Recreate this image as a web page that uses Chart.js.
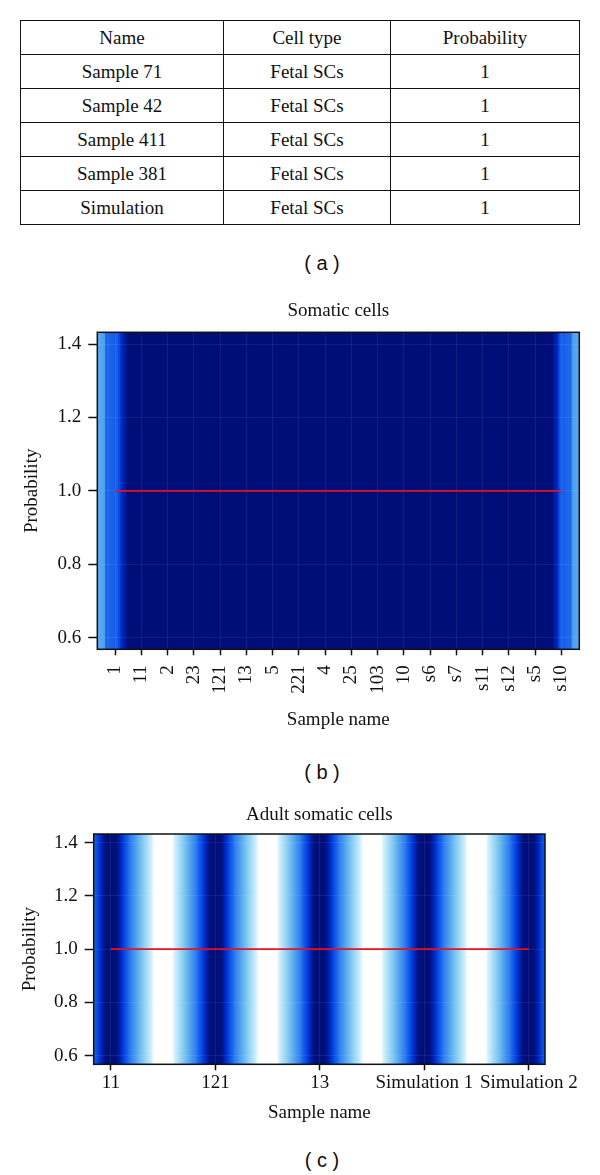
<!DOCTYPE html>
<html>
<head>
<meta charset="utf-8">
<title>Cell type probability</title>
<script src="https://cdn.jsdelivr.net/npm/chart.js@4.4.1/dist/chart.umd.min.js"></script>
<style>
  html, body { margin: 0; padding: 0; background: #fff; }
  body { position: relative; width: 600px; height: 1175px; overflow: hidden; font-family: 'Liberation Serif', 'DejaVu Serif', serif; color: #111; }
  #prob-table { position: absolute; left: 20px; top: 20px; width: 560px; border-collapse: collapse; font-size: 19px; table-layout: fixed; }
  #prob-table th, #prob-table td { border: 1.5px solid #111; height: 33px; padding: 0; text-align: center; font-weight: normal; }
  .caption { position: absolute; left: 272px; width: 100px; text-align: center; font-family: 'Liberation Sans', Arial, sans-serif; font-size: 20px; line-height: 24px; white-space: pre; }
  .chart-box { position: absolute; left: 0; width: 600px; }
</style>
</head>
<body>

<table id="prob-table">
  <colgroup><col style="width:203px"><col style="width:167px"><col></colgroup>
  <thead><tr><th>Name</th><th>Cell type</th><th>Probability</th></tr></thead>
  <tbody></tbody>
</table>
<div class="caption" style="top:251px">( a )</div>

<div class="chart-box" style="top:290px"><canvas id="somaticChart" width="600" height="460"></canvas></div>
<div class="caption" style="top:760px">( b )</div>

<div class="chart-box" style="top:790px"><canvas id="adultChart" width="600" height="345"></canvas></div>
<div class="caption" style="top:1148px">( c )</div>

<script>
// ---- data ----
var tableNames = ['Sample 71', 'Sample 42', 'Sample 411', 'Sample 381', 'Simulation'];
var tableCellTypes = ['Fetal SCs', 'Fetal SCs', 'Fetal SCs', 'Fetal SCs', 'Fetal SCs'];
var tableProbabilities = [1, 1, 1, 1, 1];

var somaticSamples = ['1', '11', '2', '23', '121', '13', '5', '221', '4', '25', '103', '10', 's6', 's7', 's11', 's12', 's5', 's10'];
var somaticProbability = [1, 1, 1, 1, 1, 1, 1, 1, 1, 1, 1, 1, 1, 1, 1, 1, 1, 1];

var adultSamples = ['11', '121', '13', 'Simulation 1', 'Simulation 2'];
var adultProbability = [1, 1, 1, 1, 1];

var probabilityTicks = [0.6, 0.8, 1.0, 1.2, 1.4];

// heat intensity (0 = white, 1 = darkest blue) read across the sample axis
var somaticHeatAt = [-0.68, -0.42, -0.36, 0.05, 0.3, 0.57, 16.55, 16.8, 17.0, 17.35, 17.45, 17.69];
var somaticHeat = [0.5, 0.53, 0.75, 0.78, 0.93, 1, 1, 0.93, 0.78, 0.75, 0.53, 0.5];
var adultHeatAt = [-0.5, 0, 0.5, 1, 1.5, 2, 2.5, 3, 3.5, 4, 4.5];
var adultHeat = [0, 1, 0, 1, 0, 1, 0, 1, 0, 1, 0];

// ---- table (a) ----
var tbody = document.querySelector('#prob-table tbody');
tableNames.forEach(function (name, i) {
  var tr = document.createElement('tr');
  [name, tableCellTypes[i], String(tableProbabilities[i])].forEach(function (txt) {
    var td = document.createElement('td');
    td.textContent = txt;
    tr.appendChild(td);
  });
  tbody.appendChild(tr);
});

// ---- heatmap helpers ----
var serif = "'Liberation Serif', 'DejaVu Serif', serif";
var ink = '#111';

// colour ramp for the heat intensity
var heatRamp = [
  [0.0, '#ffffff'], [0.07, '#ffffff'], [0.117, '#d0f0fc'], [0.22, '#a8dcf8'],
  [0.345, '#80c8f0'], [0.5, '#58a8f0'], [0.685, '#3080f0'], [0.864, '#0040e0'],
  [0.93, '#0020b0'], [0.976, '#001078'], [1.0, '#000e7a']
];

function hexRgb(h) {
  return [parseInt(h.substr(1, 2), 16), parseInt(h.substr(3, 2), 16), parseInt(h.substr(5, 2), 16)];
}

function rampColor(s) {
  s = Math.max(0, Math.min(1, s));
  for (var i = 1; i < heatRamp.length; i++) {
    if (s <= heatRamp[i][0]) {
      var a = heatRamp[i - 1], b = heatRamp[i];
      var t = (s - a[0]) / (b[0] - a[0]);
      var ca = hexRgb(a[1]), cb = hexRgb(b[1]);
      return 'rgb(' + ca.map(function (c, k) { return Math.round(c + (cb[k] - c) * t); }).join(',') + ')';
    }
  }
  return heatRamp[heatRamp.length - 1][1];
}

function heatValue(at, vals, v) {
  if (v <= at[0]) return vals[0];
  if (v >= at[at.length - 1]) return vals[vals.length - 1];
  for (var i = 0; i < at.length - 1; i++) {
    if (v >= at[i] && v <= at[i + 1]) {
      var t = (v - at[i]) / (at[i + 1] - at[i]);
      var w = (1 - Math.cos(Math.PI * t)) / 2; // smooth like image interpolation
      return vals[i] + (vals[i + 1] - vals[i]) * w;
    }
  }
  return 0;
}

function makeHeatmap(at, vals) {
  return {
    id: 'heatmap',
    beforeDraw: function (chart) {
      var area = chart.chartArea;
      var xs = chart.scales.x;
      var ctx = chart.ctx;
      ctx.save();
      for (var px = Math.floor(area.left); px < area.right; px++) {
        var l = Math.max(px, area.left), r = Math.min(px + 1, area.right);
        ctx.fillStyle = rampColor(heatValue(at, vals, xs.getValueForPixel((l + r) / 2)));
        ctx.fillRect(l, area.top, r - l, area.bottom - area.top);
      }
      ctx.restore();
    },
    afterDraw: function (chart) {
      // black frame round the plot
      var a = chart.chartArea;
      var ctx = chart.ctx;
      ctx.save();
      ctx.strokeStyle = ink;
      ctx.lineWidth = 1.5;
      ctx.strokeRect(a.left, a.top, a.right - a.left, a.bottom - a.top);
      ctx.restore();
    }
  };
}

function font(size) {
  return { family: serif, size: size, weight: 'normal', lineHeight: 1.2 };
}

// builds one probability panel
function buildPanel(canvasId, title, samples, probs, heatAt, heat, lay) {
  var ctx = document.getElementById(canvasId).getContext('2d');
  return new Chart(ctx, {
    type: 'line',
    data: {
      datasets: [{
        data: samples.map(function (s, i) { return { x: i, y: probs[i] }; }),
        borderColor: '#e5121f',
        borderWidth: 1.8,
        pointRadius: 0,
        tension: 0
      }]
    },
    options: {
      responsive: false,
      animation: false,
      layout: { padding: { left: 0, right: lay.right, top: 0, bottom: 0 } },
      plugins: {
        legend: { display: false },
        tooltip: { enabled: false },
        title: {
          display: true, text: title, fullSize: false, color: ink, font: font(19),
          padding: { top: lay.titleTop, bottom: lay.titleBottom }
        }
      },
      scales: {
        x: {
          type: 'linear',
          min: lay.xMin,
          max: lay.xMax,
          afterBuildTicks: function (scale) {
            scale.ticks = samples.map(function (s, i) { return { value: i }; });
          },
          afterFit: function (scale) { scale.height = lay.xHeight; },
          ticks: {
            autoSkip: false,
            minRotation: lay.rotation,
            maxRotation: lay.rotation,
            padding: lay.xPad,
            color: ink,
            font: font(19),
            callback: function (v, i) { return samples[i]; }
          },
          grid: { color: 'rgba(255,255,255,0.07)', tickColor: ink, tickLength: 6, tickWidth: 1.5 },
          border: { display: false },
          title: { display: true, text: 'Sample name', color: ink, font: font(19), padding: { top: 0, bottom: lay.xTitleBottom } }
        },
        y: {
          min: 0.568,
          max: 1.432,
          afterBuildTicks: function (scale) {
            scale.ticks = probabilityTicks.map(function (v) { return { value: v }; });
          },
          afterFit: function (scale) { scale.width = lay.yWidth; },
          ticks: {
            padding: 7,
            color: ink,
            font: font(19),
            callback: function (v) { return v.toFixed(1); }
          },
          grid: { color: 'rgba(255,255,255,0.07)', tickColor: ink, tickLength: 9, tickWidth: 1.5 },
          border: { display: false },
          title: { display: true, text: 'Probability', color: ink, font: font(19), padding: { top: lay.yTitleLeft, bottom: 0 } }
        }
      }
    },
    plugins: [makeHeatmap(heatAt, heat)]
  });
}

// (b) somatic cells
buildPanel('somaticChart', 'Somatic cells', somaticSamples, somaticProbability, somaticHeatAt, somaticHeat, {
  right: 20.7, titleTop: 9.3, titleBottom: 10.2, xMin: -0.68, xMax: 17.68,
  xHeight: 100.7, rotation: 90, xPad: 10, xTitleBottom: 18.6, yWidth: 97.3, yTitleLeft: 21
});

// (c) adult somatic cells
buildPanel('adultChart', 'Adult somatic cells', adultSamples, adultProbability, adultHeatAt, adultHeat, {
  right: 55, titleTop: 13.6, titleBottom: 7.6, xMin: -0.165, xMax: 4.155,
  xHeight: 70.7, rotation: 0, xPad: 1.3, xTitleBottom: 10.9, yWidth: 93.7, yTitleLeft: 19
});
</script>
</body>
</html>
